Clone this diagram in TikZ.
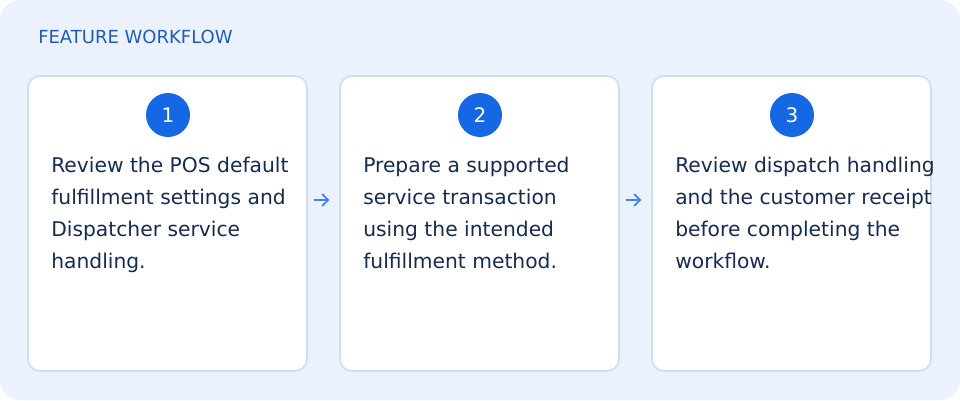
\documentclass[tikz,border=0pt]{standalone}
\usepackage{fontspec}
\setmainfont{DejaVu Sans}
\usetikzlibrary{positioning,arrows.meta}
\definecolor{panelbg}{HTML}{EBF2FD}
\definecolor{cardline}{HTML}{CFDDF4}
\definecolor{stepblue}{HTML}{1667E3}
\definecolor{titleblue}{HTML}{1E5CB8}
\definecolor{textnavy}{HTML}{172B4D}
\definecolor{arrowblue}{HTML}{3D85EE}
\begin{document}
\begin{tikzpicture}[x=0.75pt,y=-0.75pt]
\tikzset{card/.style={draw=cardline,line width=1.2pt,fill=white,rounded corners=9pt},
  badge/.style={circle,fill=stepblue,text=white,minimum size=33pt,inner sep=0pt,font=\fontsize{15}{17}\selectfont},
  steptext/.style={anchor=north west,align=left,text=textnavy,inner sep=0pt,
    font=\fontsize{15.2}{24}\selectfont},
  flow/.style={-{Straight Barb[length=4.5pt,width=9pt]},arrowblue,line width=1.3pt}}
%Panel
\fill[panelbg,rounded corners=15pt] (0,0) rectangle (960,400);
\node[anchor=west,text=titleblue,font=\fontsize{13.5}{15}\selectfont,inner sep=0pt] (title) at (38,37) {FEATURE WORKFLOW};

%Cards
\foreach \i/\x in {1/28,2/340,3/652}{
\draw[card] (\x,76) rectangle (\x+279,371);
\node[badge] (b\i) at (\x+140,115) {\i};
\coordinate (l\i) at (\x,200);
\coordinate (r\i) at (\x+279,200);
}
\node[steptext] (t1) at (51,157) {Review the POS default\\fulfillment settings and\\Dispatcher service\\handling.};
\node[steptext] (t2) at (363,157) {Prepare a supported\\service transaction\\using the intended\\fulfillment method.};
\node[steptext] (t3) at (675,157) {Review dispatch handling\\and the customer receipt\\before completing the\\workflow.};

% arrows
\draw[flow] ([xshift=5]r1) -- ([xshift=-8]l2);
\draw[flow] ([xshift=5]r2) -- ([xshift=-8]l3);
\end{tikzpicture}
\end{document}
